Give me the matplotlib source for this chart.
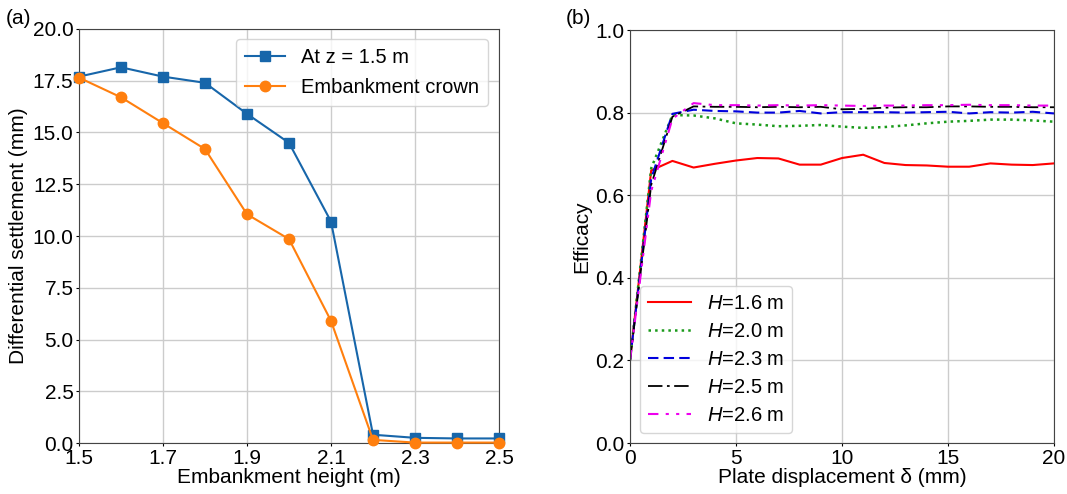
import matplotlib
matplotlib.use("Agg")
import matplotlib.pyplot as plt
import numpy as np

plt.rcParams['font.family'] = ['Liberation Sans', 'DejaVu Sans']
plt.rcParams['mathtext.fontset'] = 'custom'
plt.rcParams['mathtext.it'] = 'Liberation Sans:italic'
plt.rcParams['mathtext.rm'] = 'Liberation Sans'

# ---- panel (a) data ----
heights = [1.5, 1.6, 1.7, 1.8, 1.9, 2.0, 2.1, 2.2, 2.3, 2.4, 2.5]
settle_z15 = [17.7, 18.15, 17.7, 17.4, 15.9, 14.5, 10.7, 0.4, 0.25, 0.22, 0.22]
settle_crown = [17.65, 16.7, 15.45, 14.2, 11.05, 9.85, 5.9, 0.15, 0.02, 0.02, 0.02]
xticks_a = [1.5, 1.7, 1.9, 2.1, 2.3, 2.5]
yticks_a = [0.0, 2.5, 5.0, 7.5, 10.0, 12.5, 15.0, 17.5, 20.0]

# ---- panel (b) data ----
disp = list(range(0, 21))
eff_16 = [0.2, 0.66, 0.683, 0.667, 0.676, 0.684, 0.69, 0.689, 0.674, 0.674, 0.690, 0.698,
          0.678, 0.673, 0.672, 0.669, 0.669, 0.677, 0.674, 0.673, 0.677]
eff_20 = [0.2, 0.665, 0.794, 0.793, 0.786, 0.774, 0.771, 0.767, 0.768, 0.770, 0.766, 0.763,
          0.765, 0.769, 0.774, 0.778, 0.780, 0.783, 0.783, 0.781, 0.778]
eff_23 = [0.2, 0.64, 0.797, 0.807, 0.804, 0.803, 0.800, 0.800, 0.804, 0.798, 0.801, 0.801,
          0.801, 0.800, 0.801, 0.802, 0.798, 0.801, 0.800, 0.802, 0.798]
eff_25 = [0.2, 0.625, 0.790, 0.815, 0.814, 0.814, 0.813, 0.814, 0.813, 0.814, 0.808, 0.809,
          0.812, 0.813, 0.813, 0.815, 0.815, 0.814, 0.814, 0.813, 0.813]
eff_26 = [0.2, 0.61, 0.785, 0.823, 0.818, 0.818, 0.817, 0.818, 0.817, 0.818, 0.817, 0.816,
          0.817, 0.817, 0.818, 0.818, 0.819, 0.818, 0.818, 0.817, 0.817]
labels_b = ['1.6', '2.0', '2.3', '2.5', '2.6']

fig = plt.figure(figsize=(10.67, 4.94), dpi=100)
axa = fig.add_axes([79/1067, 1-443/494, (499-79)/1067, (443-29)/494])
axb = fig.add_axes([630/1067, 1-443/494, (1054-630)/1067, (443-30)/494])

fs = 15
lfs = 14.5
blue = '#1766aa'
orange = '#ff7f0e'

axa.plot(heights, settle_z15, '-s', color=blue, ms=7, lw=1.5, label='At z = 1.5 m', zorder=3, clip_on=False)
axa.plot(heights, settle_crown, '-o', color=orange, ms=7.5, lw=1.5, label='Embankment crown', zorder=3, clip_on=False)
axa.set_xlim(1.5, 2.5)
axa.set_ylim(0, 20)
axa.set_xticks(xticks_a)
axa.set_yticks(yticks_a)
axa.set_xticklabels([f'{v:.1f}' for v in xticks_a])
axa.set_yticklabels([f'{v:.1f}' for v in yticks_a])
axa.grid(True, color='#cccccc', lw=1)
axa.set_axisbelow(True)
axa.set_xlabel('Embankment height (m)', fontsize=fs, labelpad=0)
axa.set_ylabel('Differential settlement (mm)', fontsize=fs, labelpad=3)
axa.tick_params(labelsize=fs, length=2.5, pad=1.5)
leg = axa.legend(loc='upper right', fontsize=lfs, handlelength=2.0, borderpad=0.45,
                 labelspacing=0.55, handletextpad=0.8, borderaxespad=0,
                 bbox_to_anchor=(0.974, 0.976))
fig.text(6/1067, 1-18/494, '(a)', fontsize=fs, va='center', ha='left')

styles = [
    dict(color='#ff0000', ls='-', lw=1.5),
    dict(color='#1a9a1a', ls=':', lw=1.8),
    dict(color='#0000dd', ls=(0, (5, 2.5)), lw=1.5),
    dict(color='black', ls=(0, (8, 2.5, 1.5, 2.5)), lw=1.3),
    dict(color='#ee00ee', ls=(0, (5, 3.5, 1.5, 3.5, 1.5, 3.5)), lw=1.5),
]
series = [eff_16, eff_20, eff_23, eff_25, eff_26]
for s, st, lab in zip(series, styles, labels_b):
    axb.plot(disp, s, label=f'$H$=' + lab + ' m', **st)
axb.set_xlim(0, 20)
axb.set_ylim(0, 1)
axb.set_xticks([0, 5, 10, 15, 20])
axb.set_yticks([0.0, 0.2, 0.4, 0.6, 0.8, 1.0])
axb.set_yticklabels(['0.0', '0.2', '0.4', '0.6', '0.8', '1.0'])
axb.grid(True, color='#cccccc', lw=1)
axb.set_axisbelow(True)
axb.set_xlabel('Plate displacement δ (mm)', fontsize=fs, labelpad=0)
axb.set_ylabel('Efficacy', fontsize=fs, labelpad=3)
axb.tick_params(labelsize=fs, length=2.5, pad=1.5)
axb.legend(loc='lower left', fontsize=lfs, handlelength=2.1, borderpad=0.4,
           labelspacing=0.45, handletextpad=0.8, borderaxespad=0,
           bbox_to_anchor=(0.024, 0.024))
fig.text(566/1067, 1-18/494, '(b)', fontsize=fs, va='center', ha='left')

for ax in (axa, axb):
    for sp in ax.spines.values():
        sp.set_color('#444444')

fig.savefig('out.png', dpi=100)
